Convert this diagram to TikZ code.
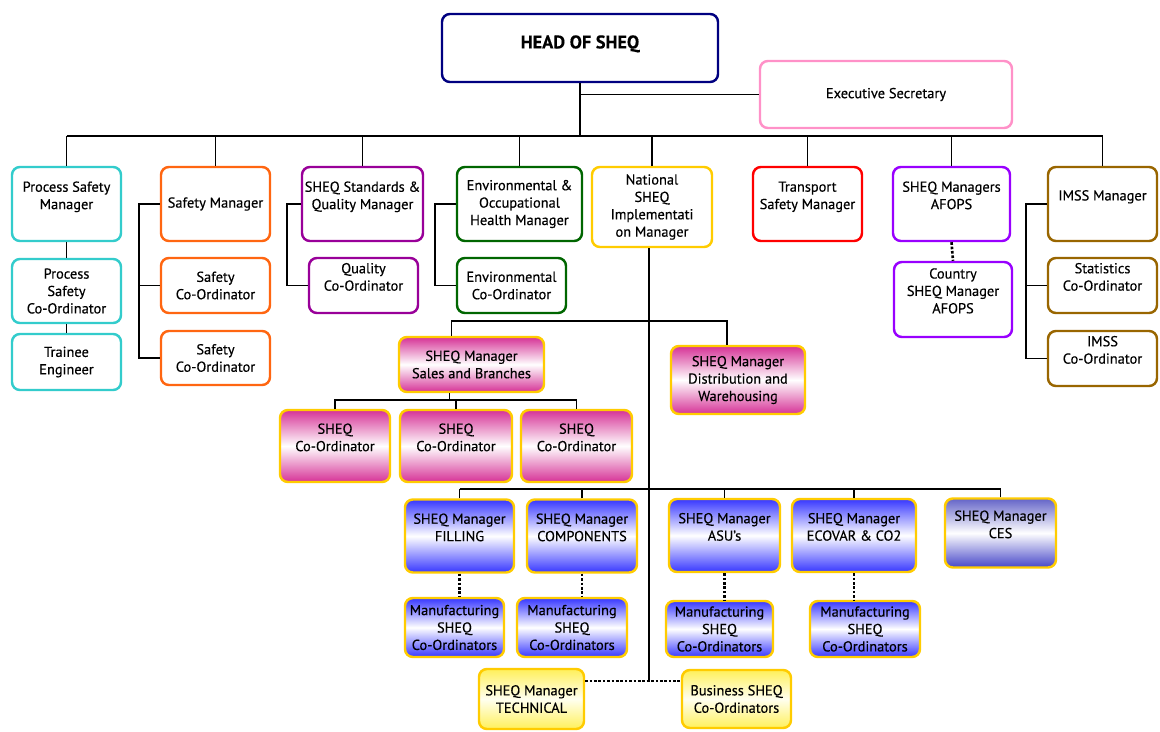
\documentclass[tikz,border=0pt]{standalone}
\usepackage{fontspec}
\setmainfont{PT Sans}[FakeBold=0.35]
\usetikzlibrary{positioning}

\definecolor{headblue}{RGB}{0,0,128}
\definecolor{secpink}{RGB}{255,145,200}
\definecolor{pscyan}{RGB}{51,204,204}
\definecolor{safeorange}{RGB}{255,102,17}
\definecolor{stdpurple}{RGB}{153,0,153}
\definecolor{envgreen}{RGB}{0,102,0}
\definecolor{sheqgold}{RGB}{255,204,0}
\definecolor{afviolet}{RGB}{153,0,255}
\definecolor{imssbrown}{RGB}{153,102,0}
\definecolor{salespink}{RGB}{214,50,150}
\definecolor{mfgblue}{RGB}{55,55,255}
\definecolor{cestop}{RGB}{100,100,200}
\definecolor{cesbot}{RGB}{70,70,200}
\definecolor{techyellow}{RGB}{255,240,90}

\begin{document}
\begin{tikzpicture}[x=0.02cm, y=-0.02cm,
    box/.style={draw, rounded corners=4.5pt, line width=1.4pt, align=center,
      inner sep=1pt, font=\fontsize{8.2}{9.9}\selectfont},
    sz/.style 2 args={minimum width=#1*0.02cm, minimum height=#2*0.02cm},
    pinkbox/.style={box, draw=sheqgold, top color=salespink, bottom color=salespink, middle color=white},
    bluebox/.style={box, draw=sheqgold, top color=mfgblue, bottom color=mfgblue, middle color=white},
    yellowbox/.style={box, draw=sheqgold, top color=techyellow, bottom color=techyellow, middle color=yellow!6},
    conn/.style={line width=1.1pt},
    dots/.style={line width=1.5pt, densely dotted}]

  % Background
  \useasboundingbox[fill=white] (0,0) rectangle (1160,731);

  % Head and secretary
  \node[box, draw=headblue, sz={276}{68}, font=\fontsize{10.4}{12.5}\selectfont\bfseries] (head) at (580,48) {HEAD OF SHEQ\\[-5.5pt]\mbox{}};
  \node[box, draw=secpink, sz={252}{67}] (exec) at (886,94.5) {Executive Secretary};

  % Managers
  \node[box, draw=pscyan, sz={109}{74}] (psm) at (66.5,204) {Process Safety\\Manager\\ \mbox{}};
  \node[box, draw=safeorange, sz={109}{74}] (sm) at (215.5,204) {Safety Manager};
  \node[box, draw=stdpurple, sz={121}{74}] (qm) at (362.5,204) {SHEQ Standards \&\\Quality Manager\\ \mbox{}};
  \node[box, draw=envgreen, sz={125}{74}] (em) at (519.5,204) {Environmental \&\\Occupational\\Health Manager};
  \node[box, draw=sheqgold, sz={120}{80}] (nat) at (652,207) {National\\SHEQ\\Implementati\\on Manager};
  \node[box, draw=red, sz={109}{74}] (tsm) at (807.5,204) {Transport\\Safety Manager\\ \mbox{}};
  \node[box, draw=afviolet, sz={117}{74}] (afm) at (951.5,204) {SHEQ Managers\\AFOPS\\ \mbox{}};
  \node[box, draw=imssbrown, sz={109}{74}] (imm) at (1102.5,204) {IMSS Manager\\ \mbox{}};

  % Co-ordinators under the managers
  \node[box, draw=pscyan, sz={109}{64}] (psc) at (66.5,291) {Process\\Safety\\Co-Ordinator};
  \node[box, draw=pscyan, sz={109}{56}] (te) at (66.5,362) {Trainee\\Engineer};
  \node[box, draw=safeorange, sz={109}{55}] (sc1) at (215.5,285.5) {Safety\\Co-Ordinator};
  \node[box, draw=safeorange, sz={109}{54}] (sc2) at (215.5,358) {Safety\\Co-Ordinator};
  \node[box, draw=stdpurple, sz={109}{55}] (qc) at (363.5,285.5) {Quality\\Co-Ordinator\\ \mbox{}};
  \node[box, draw=envgreen, sz={109}{55}] (ec) at (511.5,285.5) {Environmental\\Co-Ordinator};
  \node[box, draw=afviolet, sz={118}{75}] (cafm) at (953,299.5) {Country\\SHEQ Manager\\AFOPS\\ \mbox{}};
  \node[box, draw=imssbrown, sz={109}{55}] (stc) at (1102.5,285.5) {Statistics\\Co-Ordinator\\ \mbox{}};
  \node[box, draw=imssbrown, sz={109}{55}] (imc) at (1102.5,358.5) {IMSS\\Co-Ordinator\\ \mbox{}};

  % Sales and distribution
  \node[pinkbox, sz={145}{55}] (sales) at (471.5,364.5) {SHEQ Manager\\Sales and Branches};
  \node[pinkbox, sz={134}{68}] (dist) at (738,380) {SHEQ Manager\\Distribution and\\Warehousing};
  \node[pinkbox, sz={110}{72}] (co1) at (335,446) {SHEQ\\Co-Ordinator\\ \mbox{}};
  \node[pinkbox, sz={112}{72}] (co2) at (456,446) {SHEQ\\Co-Ordinator\\ \mbox{}};
  \node[pinkbox, sz={111}{72}] (co3) at (576.5,446) {SHEQ\\Co-Ordinator\\ \mbox{}};

  % Manufacturing
  \node[bluebox, sz={109}{73}] (fill) at (459.5,536) {SHEQ Manager\\FILLING\\ \mbox{}};
  \node[bluebox, sz={110}{73}] (comp) at (582,536) {SHEQ Manager\\COMPONENTS\\ \mbox{}};
  \node[bluebox, sz={111}{73}] (asu) at (724.5,535.5) {SHEQ Manager\\ASU's\\ \mbox{}};
  \node[bluebox, sz={124}{73}] (eco) at (854,535.5) {SHEQ Manager\\ECOVAR \& CO2\\ \mbox{}};
  \node[box, draw=sheqgold, top color=cestop, bottom color=cesbot, middle color=white, sz={111}{69}] (ces) at (1000.5,533) {SHEQ Manager\\CES\\ \mbox{}};
  \node[bluebox, sz={99}{59}] (mf1) at (454.5,627.5) {Manufacturing\\SHEQ\\Co-Ordinators};
  \node[bluebox, sz={110}{59}] (mf2) at (572,627.5) {Manufacturing\\SHEQ\\Co-Ordinators};
  \node[bluebox, sz={107}{56}] (mf3) at (719.5,629) {Manufacturing\\SHEQ\\Co-Ordinators};
  \node[bluebox, sz={110}{56}] (mf4) at (865,629) {Manufacturing\\SHEQ\\Co-Ordinators};

  % Technical and business
  \node[yellowbox, sz={105}{60}] (tech) at (531.5,699) {SHEQ Manager\\TECHNICAL};
  \node[yellowbox, sz={109}{58}] (bus) at (736.5,699) {Business SHEQ\\Co-Ordinators};

  % Bus lines
  \coordinate (mainbus) at (0,136);
  \coordinate (pinkbus) at (0,321);
  \coordinate (subbus) at (0,400);
  \coordinate (bluebus) at (0,489);
  \coordinate (natend) at (649,681);

  \draw[conn] (head.south) -- (head.south |- mainbus);
  \draw[conn] (head.south |- exec.west) -- (exec.west);
  \draw[conn] (psm.north |- mainbus) -- (imm.north |- mainbus);
  \foreach \n in {psm,sm,qm,em,nat,tsm,afm,imm}
    \draw[conn] (\n.north) -- (\n.north |- mainbus);

  % Left brackets
  \draw[conn] (psm.south) -- (psc.north);
  \draw[conn] (psc.south) -- (te.north);
  \draw[conn] (sm.west) -- ++(-21,0) |- (sc2.west);
  \draw[conn] (sc1.west) -- ++(-21,0);
  \draw[conn] (qm.west) -- ++(-14,0) |- (qc.west);
  \draw[conn] (em.west) -- ++(-21,0) |- (ec.west);
  \draw[conn] (imm.west) -- ++(-21,0) |- (imc.west);
  \draw[conn] (stc.west) -- ++(-21,0);
  \draw[dots] (afm.south) -- (cafm.north);

  % National branch
  \draw[conn] (nat.south -| natend) -- (natend);
  \draw[conn] ([xshift=-0.4cm]sales.north) -- ([xshift=-0.4cm]sales.north |- pinkbus)
    -- ([xshift=-0.22cm]dist.north |- pinkbus) -- ([xshift=-0.22cm]dist.north);
  \draw[conn] ([xshift=-0.44cm]sales.south) -- ([xshift=-0.44cm]sales.south |- subbus);
  \draw[conn] (co1.north) -- (co1.north |- subbus) -- (co3.north |- subbus) -- (co3.north);
  \draw[conn] (co2.north) -- (co2.north |- subbus);
  \draw[conn] (fill.north |- bluebus) -- (ces.north |- bluebus);
  \foreach \n in {fill,comp,asu,eco,ces}
    \draw[conn] (\n.north) -- (\n.north |- bluebus);
  \draw[dots] (fill.south) -- (fill.south |- mf1.north);
  \draw[dots] (comp.south) -- (comp.south |- mf2.north);
  \draw[dots] (asu.south) -- (asu.south |- mf3.north);
  \draw[dots] (eco.south) -- (eco.south |- mf4.north);
  \draw[dots] (tech.east |- natend) -- (natend) -- (bus.west |- natend);

\end{tikzpicture}
\end{document}
